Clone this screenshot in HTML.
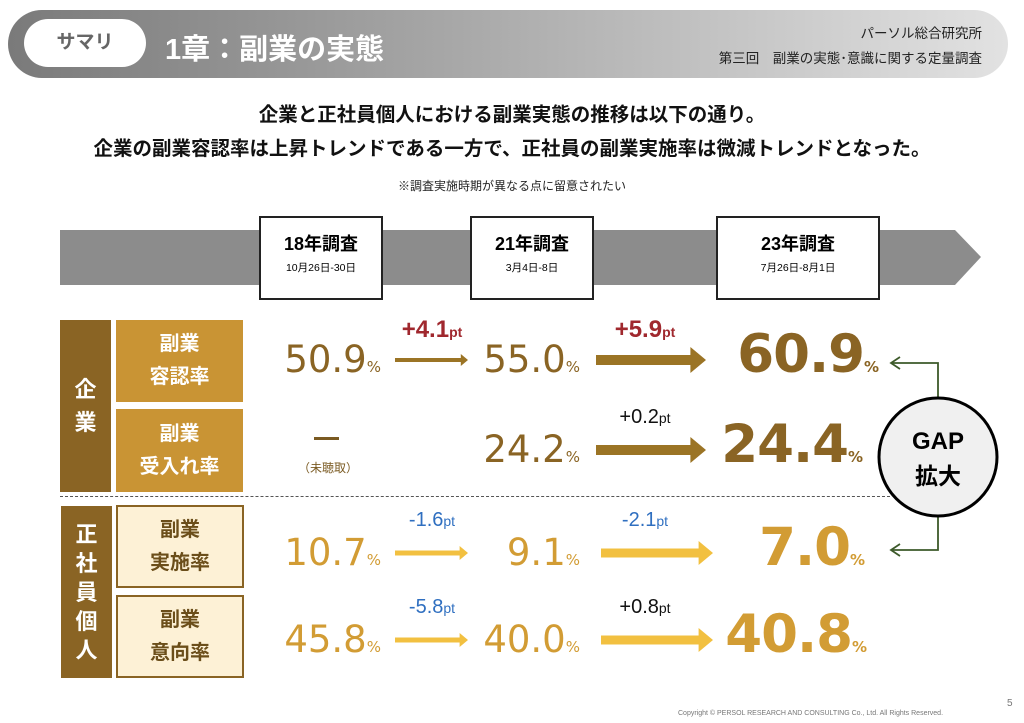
<!DOCTYPE html>
<html><head><meta charset="utf-8">
<style>
*{margin:0;padding:0;box-sizing:border-box}
body{width:1024px;height:723px;background:#fff;position:relative;overflow:hidden;font-family:"Liberation Sans","Noto Sans CJK JP",sans-serif}
.a{position:absolute}
.box{position:absolute;background:#fff;border:2px solid #222;text-align:center}
.box b{display:block;font-size:18px;margin-top:12px}
.box span{display:block;font-size:10.5px;margin-top:4px}
.lbl{position:absolute;display:flex;align-items:center;justify-content:center;text-align:center;font-weight:bold;font-size:20px;line-height:33px}
.val{position:absolute;text-align:right;white-space:nowrap}
.val small{font-size:15px}
.dl{position:absolute;white-space:nowrap;font-size:20px;text-align:center}
.dl small{font-size:14px}
</style></head><body>
<div class="a" style="left:8px;top:10px;width:1000px;height:68px;border-radius:34px;background:linear-gradient(90deg,#7a7a7a 0%,#a8a8a8 45%,#e2e2e2 100%)"></div>
<div class="a" style="left:24px;top:19px;width:122px;height:48px;border-radius:24px;background:#fff;color:#666;font-size:19px;font-weight:bold;text-align:center;line-height:48px">サマリ</div>
<div class="a" style="left:165px;top:26px;color:#fff;font-size:29px;font-weight:bold">1章：副業の実態</div>
<div class="a" style="right:42px;top:22px;font-size:13.5px;color:#222">パーソル総合研究所</div>
<div class="a" style="right:42px;top:47px;font-size:13.5px;color:#222">第三回　副業の実態･意識に関する定量調査</div>
<div class="a" style="left:0;width:1024px;top:98px;text-align:center;font-size:19.5px;font-weight:bold;line-height:34px;color:#111">企業と正社員個人における副業実態の推移は以下の通り。<br>企業の副業容認率は上昇トレンドである一方で、正社員の副業実施率は微減トレンドとなった。</div>
<div class="a" style="left:0;width:1024px;top:177px;text-align:center;font-size:12px;color:#222">※調査実施時期が異なる点に留意されたい</div>
<svg class="a" style="left:0;top:0" width="1024" height="723">
<polygon points="60,230 955,230 981,257 955,285 60,285" fill="#8c8c8c"/>
</svg>
<div class="box" style="left:259px;top:216px;width:124px;height:84px"><b>18年調査</b><span>10月26日-30日</span></div>
<div class="box" style="left:470px;top:216px;width:124px;height:84px"><b>21年調査</b><span>3月4日-8日</span></div>
<div class="box" style="left:716px;top:216px;width:164px;height:84px"><b>23年調査</b><span>7月26日-8月1日</span></div>
<div class="lbl" style="left:60px;top:320px;width:51px;height:172px;background:#8a6424;color:#fff;font-size:22px">企<br>業</div>
<div class="lbl" style="left:116px;top:320px;width:127px;height:82px;background:#c99434;color:#fff">副業<br>容認率</div>
<div class="lbl" style="left:116px;top:409px;width:127px;height:83px;background:#c99434;color:#fff">副業<br>受入れ率</div>
<div class="lbl" style="left:61px;top:506px;width:51px;height:172px;background:#8a6424;color:#fff;font-size:22px;line-height:29px">正<br>社<br>員<br>個<br>人</div>
<div class="lbl" style="left:116px;top:505px;width:128px;height:83px;background:#fdf1d6;border:2px solid #8a6424;color:#6b4e1a">副業<br>実施率</div>
<div class="lbl" style="left:116px;top:595px;width:128px;height:83px;background:#fdf1d6;border:2px solid #8a6424;color:#6b4e1a">副業<br>意向率</div>
<div class="a" style="left:60px;top:496px;width:830px;border-top:1.5px dashed #555"></div>
<div class="a" style="left:314px;top:437px;width:25px;height:3px;background:#7a5a22"></div>
<div class="a" style="left:290px;top:459px;width:76px;text-align:center;font-size:12px;color:#7a5a22">（未聴取）</div>
<svg class="a" id="chart" style="left:0;top:0" width="1024" height="723">
<g fill="none" stroke="#3d5a2a" stroke-width="1.8">
<polyline points="938,397 938,363 891,363"/><polyline points="900,357 891,363 900,369"/>
<polyline points="938,517 938,550 891,550"/><polyline points="900,544 891,550 900,556"/>
</g>
<circle cx="938" cy="457" r="59" fill="#f0f0f0" stroke="#000" stroke-width="3"/>
<text x="938" y="449" text-anchor="middle" font-size="24" font-weight="bold" font-family="Liberation Sans,sans-serif">GAP</text>
<text x="938" y="484" text-anchor="middle" font-size="23" font-weight="bold" font-family="Noto Sans CJK JP,sans-serif">拡大</text>
</svg>
<div id="vals"></div>
<div class="a" style="left:678px;top:710px;font-size:7px;color:#777">Copyright ©  PERSOL  RESEARCH AND CONSULTING Co., Ltd. All Rights Reserved.</div>
<div class="a" style="left:1007px;top:698px;font-size:10px;color:#777">5</div>
<script>
const rowsNames=['approval','acceptance','practice','intention'];
const v18=[50.9,null,10.7,45.8];
const v21=[55.0,24.2,9.1,40.0];
const v23=[60.9,24.4,7.0,40.8];
const d1=['+4.1',null,'-1.6','-5.8'];
const d2=['+5.9','+0.2','-2.1','+0.8'];
const rowY=[360,450,553,640];
const valCol=['#8a6424','#8a6424','#d29c34','#d29c34'];
const arrCol=['#9b7425','#9b7425','#f2c040','#f2c040'];
const host=document.getElementById('vals');
const svg=document.getElementById('chart');
const NS='http://www.w3.org/2000/svg';
function dcol(s,i){if(s[0]==='-')return '#2f6fc0';return i===0?'#a0282e':'#111';}
function arrow(x1,x2,y,c,th,hw,name){
 const p=document.createElementNS(NS,'polygon');
 const hl=hw*1.2;
 p.setAttribute('points',`${x1},${y-th/2} ${x2-hl},${y-th/2} ${x2-hl},${y-hw} ${x2},${y} ${x2-hl},${y+hw} ${x2-hl},${y+th/2} ${x1},${y+th/2}`);
 p.setAttribute('fill',c);
 
 
 svg.appendChild(p);
}
function val(v,right,y,size,bold,c,name){
 if(v===null)return;
 const d=document.createElement('div');
 d.className='val';
 
 
 d.style.right=(1024-right)+'px';
 d.style.top=(y-size*0.62)+'px';
 d.style.fontSize=size+'px';
 d.style.lineHeight=size+'px';
 d.style.color=c;
 d.style.fontWeight=bold?'bold':'normal';
 d.style.fontFamily='"DejaVu Sans",sans-serif';
 if(bold)d.style.letterSpacing='-1px';
 d.innerHTML=v.toFixed(1)+'<small>%</small>';
 host.appendChild(d);
}
function delta(s,cx,y,i,big,name){
 if(s===null)return;
 const d=document.createElement('div');
 d.className='dl';
 
 
 d.style.left=(cx-60)+'px';d.style.width='120px';
 d.style.top=(y-44)+'px';
 d.style.color=dcol(s,i);
 d.style.fontWeight=big?'bold':'normal';
 d.style.fontSize=big?'24px':'20px';
 d.innerHTML=s+'<small>pt</small>';
 host.appendChild(d);
}
rowsNames.forEach((n,i)=>{
 const y=rowY[i];
 val(v18[i],381,y+4,37,false,valCol[i],n+'-18');
 val(v21[i],580,y+4,37,false,valCol[i],n+'-21');
 val(v23[i],i===2?864:i===1?862:i===0?878:866,y+1,53,true,valCol[i],n+'-23');
 if(d1[i]!==null){arrow(395,468,y,arrCol[i],i<2?4:5,i<2?6:7,n+'-arrow-1');}
 arrow(i<2?596:601,i<2?706:713,y,arrCol[i],i<2?10:9,i<2?13:12,n+'-arrow-2');
 delta(d1[i],432,y,i,i===0,n+'-delta-1');
 delta(d2[i],645,y,i,i===0,n+'-delta-2');
});
</script>
</body></html>
